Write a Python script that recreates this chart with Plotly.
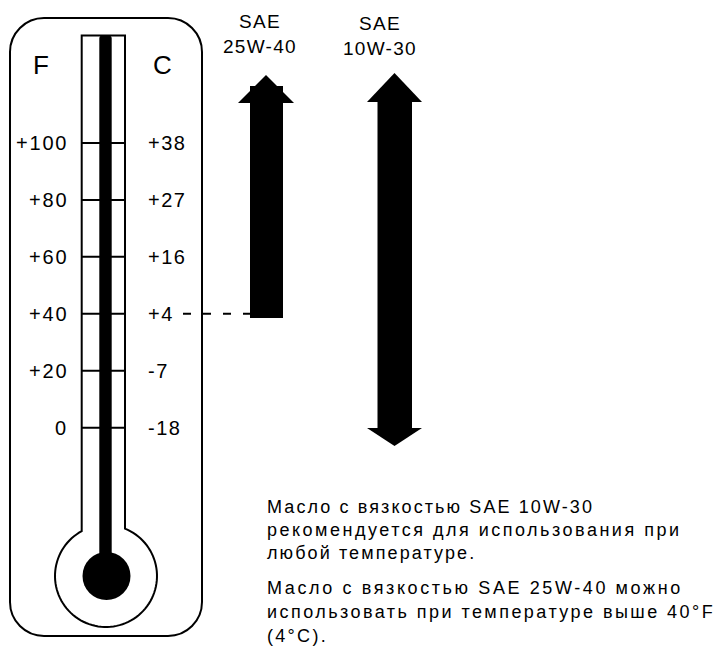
import numpy as np
import plotly.graph_objects as go

# ---------------- data ----------------
F_TICKS = [100, 80, 60, 40, 20, 0]
F_LABELS = ["+100", "+80", "+60", "+40", "+20", "0"]
C_LABELS = ["+38", "+27", "+16", "+4", "-7", "-18"]
OIL_NAMES = ["SAE<br>25W-40", "SAE<br>10W-30"]
OIL_MIN_F = 40          # 25W-40 usable above 40 F
NOTE_1 = ["Масло с вязкостью SAE 10W-30",
          "рекомендуется для использования при",
          "любой температуре."]
NOTE_2 = ["Масло с вязкостью SAE 25W-40 можно",
          "использовать при температуре выше 40°F",
          "(4°C)."]

# ---------------- style ----------------
W, H = 716, 646
FONT = "Liberation Sans, Arial, Helvetica, sans-serif"
NOTE_TRACKING_1 = [2.1, 2.5, 2.1]
NOTE_TRACKING_2 = [2.6, 2.45, 2.3]

# temperature axis (F) laid over the pixel axis
F_TOP, F_BOTTOM = 150.26, -76.73

shapes = []
BLACK = "black"

def cpath(points, close=True):
    s = "M " + " L ".join(f"{x:.2f},{y:.2f}" for x, y in points)
    return s + (" Z" if close else "")

# outer rounded frame
x0, x1, y0, y1, r = 10, 202, 18, 636, 34
k = 0.5523 * r
frame = (f"M {x0+r},{y0} L {x1-r},{y0} C {x1-r+k},{y0} {x1},{y0+r-k} {x1},{y0+r} "
         f"L {x1},{y1-r} C {x1},{y1-r+k} {x1-r+k},{y1} {x1-r},{y1} "
         f"L {x0+r},{y1} C {x0+r-k},{y1} {x0},{y1-r+k} {x0},{y1-r} "
         f"L {x0},{y0+r} C {x0},{y0+r-k} {x0+r-k},{y0} {x0+r},{y0} Z")
shapes.append(dict(type="path", path=frame, xref="x", yref="y",
                   line=dict(color=BLACK, width=2), fillcolor="white", layer="above"))

# tube + bulb outline
tl, tr, ttop = 81.7, 125.0, 35.5
bcx, bcy, br = 106.0, 576.0, 51.0
aL = np.arctan2(-np.sqrt(br**2 - (tl-bcx)**2), tl-bcx) + 2*np.pi
aR = np.arctan2(-np.sqrt(br**2 - (tr-bcx)**2), tr-bcx)
ts = np.linspace(aR, aL, 90)
pts = [(tl, ttop), (tr, ttop)] + [(bcx + br*np.cos(t), bcy + br*np.sin(t)) for t in ts]
shapes.append(dict(type="path", path=cpath(pts), xref="x", yref="y",
                   line=dict(color=BLACK, width=2), fillcolor="white", layer="above"))

# tick marks across the tube (temperature axis)
for f in F_TICKS:
    shapes.append(dict(type="line", xref="x", yref="y2", x0=tl, x1=tr, y0=f, y1=f,
                       line=dict(color=BLACK, width=2), layer="above"))

# mercury column with rounded top
mx0, mx1, mtop, mbot, mr = 99.3, 111.7, 35.5, 565, 3
col = (f"M {mx0},{mbot} L {mx0},{mtop+mr} Q {mx0},{mtop} {mx0+mr},{mtop} "
       f"L {mx1-mr},{mtop} Q {mx1},{mtop} {mx1},{mtop+mr} L {mx1},{mbot} Z")
shapes.append(dict(type="path", path=col, xref="x", yref="y",
                   line=dict(width=0), fillcolor=BLACK, layer="above"))
shapes.append(dict(type="circle", xref="x", yref="y", x0=106.5-24, x1=106.5+24,
                   y0=576-24, y1=576+24, line=dict(width=0), fillcolor=BLACK, layer="above"))

# dashed threshold line at OIL_MIN_F
shapes.append(dict(type="line", xref="x", yref="y2", x0=183, x1=250,
                   y0=OIL_MIN_F, y1=OIL_MIN_F,
                   line=dict(color=BLACK, width=2, dash="8px,12px"), layer="above"))

# 25W-40 arrow: shaft from OIL_MIN_F upward
shapes.append(dict(type="rect", xref="x", yref="y2", x0=250, x1=283,
                   y0=OIL_MIN_F - 1.5, y1=120, line=dict(width=0), fillcolor=BLACK, layer="above"))
shapes.append(dict(type="path", xref="x", yref="y",
                   path=cpath([(238, 103), (266, 75), (294, 103)]),
                   line=dict(width=0), fillcolor=BLACK, layer="above"))

# 10W-30 arrow: both directions (any temperature)
shapes.append(dict(type="rect", xref="x", yref="y", x0=377.5, x1=412, y0=100, y1=430,
                   line=dict(width=0), fillcolor=BLACK, layer="above"))
shapes.append(dict(type="path", xref="x", yref="y",
                   path=cpath([(367, 102), (394.5, 73), (422, 102)]),
                   line=dict(width=0), fillcolor=BLACK, layer="above"))
shapes.append(dict(type="path", xref="x", yref="y",
                   path=cpath([(367, 428), (394.5, 446), (422, 428)]),
                   line=dict(width=0), fillcolor=BLACK, layer="above"))

# ---------------- text ----------------
ann = []
def txt(x, y, s, size, xanchor="center", yanchor="middle", yref="y", track=0.0):
    if track:
        s = "<br>".join(f'<span style="letter-spacing:{track}px">{p}</span>'
                        for p in s.split("<br>"))
    ann.append(dict(x=x, y=y, xref="x", yref=yref, text=s, showarrow=False,
                    xanchor=xanchor, yanchor=yanchor, align="center",
                    font=dict(family=FONT, size=size, color=BLACK)))

txt(41, 65, "F", 26)
txt(162, 65, "C", 26)
for f, lf, lc in zip(F_TICKS, F_LABELS, C_LABELS):
    txt(70, f, lf, 20, xanchor="right", yref="y2", track=1.8)
    txt(146, f, lc, 20, xanchor="left", yref="y2", track=1.5)

txt(260, 34, OIL_NAMES[0], 19, track=1.3)
txt(380, 36, OIL_NAMES[1], 19, track=1.3)

for i, line in enumerate(NOTE_1):
    txt(265, 506.5 + i * 23, line, 18, xanchor="left", track=NOTE_TRACKING_1[i])
for i, line in enumerate(NOTE_2):
    txt(265, 588 + i * 24, line, 18, xanchor="left", track=NOTE_TRACKING_2[i])

fig = go.Figure()
fig.add_trace(go.Scatter(x=[0], y=[0], mode="markers", marker=dict(opacity=0),
                         hoverinfo="skip", showlegend=False))
fig.add_trace(go.Scatter(x=[0], y=[0], yaxis="y2", mode="markers", marker=dict(opacity=0),
                         hoverinfo="skip", showlegend=False))
fig.update_layout(
    width=W, height=H, margin=dict(l=0, r=0, t=0, b=0),
    paper_bgcolor="white", plot_bgcolor="white", showlegend=False,
    xaxis=dict(range=[0, W], visible=False, fixedrange=True),
    yaxis=dict(range=[H, 0], visible=False, fixedrange=True),
    yaxis2=dict(range=[F_BOTTOM, F_TOP], overlaying="y", visible=False, fixedrange=True),
    shapes=shapes, annotations=ann,
)
fig.write_html("out.html", config=dict(displayModeBar=False),
               post_script="document.body.style.margin='0';")
